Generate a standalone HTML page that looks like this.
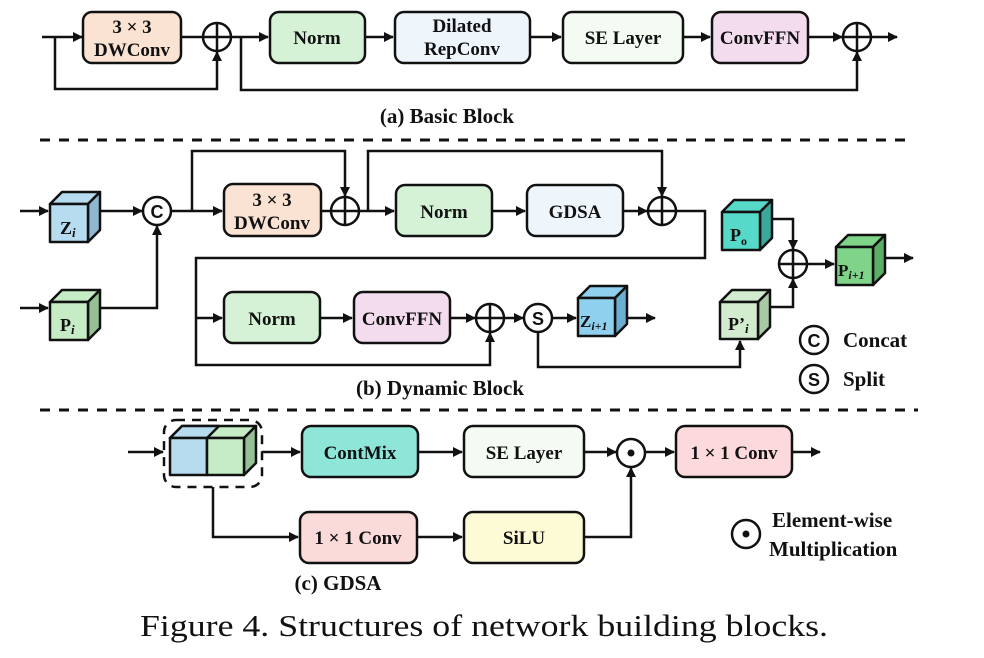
<!DOCTYPE html>
<html><head><meta charset="utf-8"><style>
html,body{margin:0;padding:0;background:#fff;}
svg{display:block;}
text{font-family:"Liberation Serif",serif;font-weight:bold;fill:#111;}
</style></head><body>
<svg width="984" height="658" viewBox="0 0 984 658" xmlns="http://www.w3.org/2000/svg">
<defs>
<marker id="a" markerWidth="10" markerHeight="10" refX="9" refY="5" orient="auto" markerUnits="userSpaceOnUse">
<path d="M0,0 L10,5 L0,10 z" fill="#111"/></marker>
</defs>
<g stroke="#111" stroke-width="2.5" fill="none">
<path d="M42,37 H82" marker-end="url(#a)"/>
<path d="M55,37 V89 H217 V52" marker-end="url(#a)"/>
<path d="M181,37 H203"/>
<path d="M231,37 H268" marker-end="url(#a)"/>
<path d="M241,37 V90 H857 V52" marker-end="url(#a)"/>
<path d="M365,37 H393" marker-end="url(#a)"/>
<path d="M530,37 H561" marker-end="url(#a)"/>
<path d="M683,37 H710" marker-end="url(#a)"/>
<path d="M808,37 H842" marker-end="url(#a)"/>
<path d="M871,37 H897" marker-end="url(#a)"/>
<path d="M40,140 H905" stroke-width="3" stroke-dasharray="10,9"/>
<path d="M40,410 H918" stroke-width="3" stroke-dasharray="10,9"/>
<path d="M20,211 H48" marker-end="url(#a)"/>
<path d="M20,308 H48" marker-end="url(#a)"/>
<path d="M100,211 H142" marker-end="url(#a)"/>
<path d="M100,308 H157 V226" marker-end="url(#a)"/>
<path d="M171,211 H222" marker-end="url(#a)"/>
<path d="M192,211 V151 H345 V196" marker-end="url(#a)"/>
<path d="M321,211 H331"/>
<path d="M359,211 H394" marker-end="url(#a)"/>
<path d="M368,211 V151 H662 V196" marker-end="url(#a)"/>
<path d="M492,211 H525" marker-end="url(#a)"/>
<path d="M623,211 H647" marker-end="url(#a)"/>
<path d="M676,211 H705 V258 H196 V365 H490 V333" marker-end="url(#a)"/>
<path d="M196,318 H222" marker-end="url(#a)"/>
<path d="M320,318 H352" marker-end="url(#a)"/>
<path d="M450,318 H475" marker-end="url(#a)"/>
<path d="M504,318 H523" marker-end="url(#a)"/>
<path d="M552,318 H576" marker-end="url(#a)"/>
<path d="M627,318 H655" marker-end="url(#a)"/>
<path d="M538,332 V367 H740 V341" marker-end="url(#a)"/>
<path d="M770,307 H793 V279" marker-end="url(#a)"/>
<path d="M772,219 H793 V249" marker-end="url(#a)"/>
<path d="M807,264 H834" marker-end="url(#a)"/>
<path d="M885,258 H913" marker-end="url(#a)"/>
<path d="M128,452 H163" marker-end="url(#a)"/>
<rect x="164" y="420" width="98" height="67" rx="12" stroke-dasharray="9,7"/>
<path d="M262,452 H300" marker-end="url(#a)"/>
<path d="M213,487 V537 H298" marker-end="url(#a)"/>
<path d="M418,452 H462" marker-end="url(#a)"/>
<path d="M417,537 H462" marker-end="url(#a)"/>
<path d="M584,452 H616" marker-end="url(#a)"/>
<path d="M584,537 H631 V468" marker-end="url(#a)"/>
<path d="M645,452 H674" marker-end="url(#a)"/>
<path d="M792,452 H820" marker-end="url(#a)"/>
</g>
<g stroke="#111" stroke-width="2.5">
<rect x="83" y="12" width="98" height="51" rx="9" fill="#fbe3d4"/>
<rect x="270" y="12" width="95" height="51" rx="9" fill="#d5f2d6"/>
<rect x="395" y="12" width="135" height="51" rx="9" fill="#eef6fc"/>
<rect x="563" y="12" width="120" height="51" rx="9" fill="#f4fbf3"/>
<rect x="712" y="12" width="96" height="51" rx="9" fill="#f4dcef"/>
<rect x="224" y="184" width="97" height="52" rx="9" fill="#fbe3d4"/>
<rect x="396" y="185" width="96" height="51" rx="9" fill="#d5f2d6"/>
<rect x="527" y="185" width="96" height="51" rx="9" fill="#eef6fc"/>
<rect x="224" y="292" width="96" height="51" rx="9" fill="#d5f2d6"/>
<rect x="354" y="292" width="96" height="51" rx="9" fill="#f4dcef"/>
<rect x="302" y="426" width="116" height="51" rx="9" fill="#8ee6d9"/>
<rect x="464" y="426" width="120" height="51" rx="9" fill="#f4fbf3"/>
<rect x="676" y="426" width="116" height="51" rx="9" fill="#fbd9dc"/>
<rect x="300" y="512" width="117" height="51" rx="9" fill="#fbdada"/>
<rect x="464" y="512" width="120" height="51" rx="9" fill="#fdfbd5"/>
</g>
<g stroke="#111" stroke-width="2.5" fill="#fff">
<circle cx="217" cy="37" r="14"/><path d="M203,37 H231 M217,23 V51"/>
<circle cx="857" cy="37" r="14"/><path d="M843,37 H871 M857,23 V51"/>
<circle cx="345" cy="211" r="14"/><path d="M331,211 H359 M345,197 V225"/>
<circle cx="662" cy="211" r="14"/><path d="M648,211 H676 M662,197 V225"/>
<circle cx="490" cy="318" r="14"/><path d="M476,318 H504 M490,304 V332"/>
<circle cx="793" cy="264" r="14"/><path d="M779,264 H807 M793,250 V278"/>
<circle cx="157" cy="211" r="14"/>
<circle cx="538" cy="318" r="14"/>
<circle cx="814" cy="340" r="14"/>
<circle cx="814" cy="379" r="14"/>
<circle cx="631" cy="453" r="14"/>
<circle cx="746" cy="534" r="14"/>
</g>
<circle cx="631" cy="453" r="3.5" fill="#111"/>
<circle cx="746" cy="534" r="3.5" fill="#111"/>
<g font-size="19" text-anchor="middle">
<text x="157" y="218" style="font-family:'Liberation Sans',sans-serif" font-size="18">C</text>
<text x="538" y="325" style="font-family:'Liberation Sans',sans-serif" font-size="18">S</text>
<text x="814" y="347" style="font-family:'Liberation Sans',sans-serif" font-size="18">C</text>
<text x="814" y="386" style="font-family:'Liberation Sans',sans-serif" font-size="18">S</text>
</g>
<g stroke="#111" stroke-width="2.5" stroke-linejoin="round">
<path d="M50,204 L62,192 H100 L88,204 Z" fill="#b7dcf0"/><path d="M88,204 L100,192 V230 L88,242 Z" fill="#8fb8d0"/><rect x="50" y="204" width="38" height="38" fill="#b7dcf0"/>
<path d="M50,302 L62,290 H100 L88,302 Z" fill="#c6ecc6"/><path d="M88,302 L100,290 V328 L88,340 Z" fill="#95c095"/><rect x="50" y="302" width="38" height="38" fill="#c6ecc6"/>
<path d="M578,298 L590,286 H627 L615,298 Z" fill="#8fd0ee"/><path d="M615,298 L627,286 V324 L615,336 Z" fill="#6aaed0"/><rect x="578" y="298" width="37" height="38" fill="#8fd0ee"/>
<path d="M720,302 L732,290 H770 L758,302 Z" fill="#d3ecd0"/><path d="M758,302 L770,290 V327 L758,339 Z" fill="#a9c9a6"/><rect x="720" y="302" width="38" height="37" fill="#d3ecd0"/>
<path d="M722,212 L734,200 H772 L760,212 Z" fill="#57d9c9"/><path d="M760,212 L772,200 V238 L760,250 Z" fill="#3aa99b"/><rect x="722" y="212" width="38" height="38" fill="#57d9c9"/>
<path d="M836,247 L848,235 H885 L873,247 Z" fill="#7fd48a"/><path d="M873,247 L885,235 V273 L873,285 Z" fill="#5aae66"/><rect x="836" y="247" width="37" height="38" fill="#7fd48a"/>
<path d="M170,438 L182,426 H256 L244,438 Z" fill="#c6ecc6"/><path d="M170,438 L182,426 H219 L207,438 Z" fill="#b7dcf0"/>
<path d="M244,438 L256,426 V463 L244,475 Z" fill="#95c095"/>
<rect x="170" y="438" width="37" height="37" fill="#b7dcf0"/><rect x="207" y="438" width="37" height="37" fill="#c6ecc6"/>
</g>
<g font-size="18">
<text x="60" y="234">Z<tspan font-style="italic" font-size="13" dy="3">i</tspan></text>
<text x="60" y="331">P<tspan font-style="italic" font-size="13" dy="3">i</tspan></text>
<text x="580" y="327" font-size="17">Z<tspan font-style="italic" font-size="12" dy="3">i+1</tspan></text>
<text x="728" y="330">P’<tspan font-style="italic" font-size="13" dy="3">i</tspan></text>
<text x="730" y="241">P<tspan font-size="12" dy="4">o</tspan></text>
<text x="838" y="276" font-size="17">P<tspan font-style="italic" font-size="12" dy="3">i+1</tspan></text>
</g>
<g font-size="19" text-anchor="middle">
<text x="132" y="33">3 × 3</text><text x="132" y="56">DWConv</text>
<text x="317" y="44">Norm</text>
<text x="462" y="32">Dilated</text><text x="462" y="55">RepConv</text>
<text x="623" y="44">SE Layer</text>
<text x="760" y="44">ConvFFN</text>
<text x="272" y="206">3 × 3</text><text x="272" y="229">DWConv</text>
<text x="444" y="218">Norm</text>
<text x="575" y="218">GDSA</text>
<text x="272" y="325">Norm</text>
<text x="402" y="325">ConvFFN</text>
<text x="360" y="459">ContMix</text>
<text x="524" y="459">SE Layer</text>
<text x="734" y="459">1 × 1 Conv</text>
<text x="358" y="544">1 × 1 Conv</text>
<text x="524" y="544">SiLU</text>
<text x="447" y="123" font-size="21">(a) Basic Block</text>
<text x="440" y="395" font-size="21">(b) Dynamic Block</text>
<text x="338" y="590" font-size="21">(c) GDSA</text>
</g>
<g font-size="21">
<text x="843" y="347">Concat</text>
<text x="843" y="386">Split</text>
<text x="772" y="527">Element-wise</text>
<text x="769" y="556">Multiplication</text>
</g>
<text x="140" y="636" font-size="31" style="font-weight:normal" textLength="688" lengthAdjust="spacingAndGlyphs">Figure 4. Structures of network building blocks.</text>
</svg>
</body></html>
